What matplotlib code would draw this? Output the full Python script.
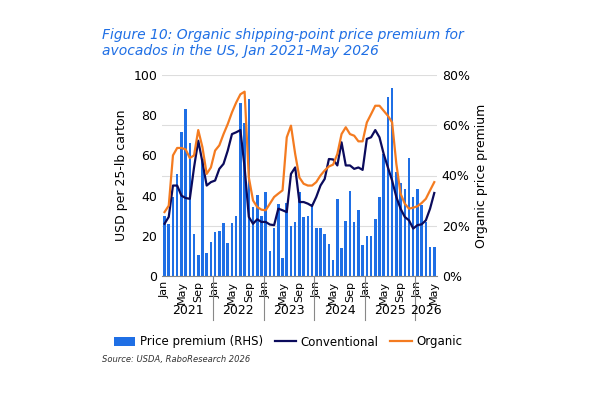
import matplotlib
matplotlib.use("Agg")
import matplotlib.pyplot as plt
import numpy as np

premium = [23.8,20.6,31.4,40.4,57.5,66.3,53,16.9,8.3,46.6,9.1,13.6,
           17.4,17.8,21.1,13.1,20.9,23.8,68.7,60.8,70.3,27.5,32.1,23.8,
           33.4,10,19.3,28.8,7,29,
           20,21.3,33.4,23.5,23.9,28.8,19.3,19.3,16.9,12.9,6.3,30.8,11,21.8,33.7,21.3,26.4,12.5,
           16.1,16.1,22.7,31.4,48.6,71.3,74.8,41.3,37.1,34.5,46.9,31.4,34.7,28.4,21.5,11.4,11.4]
organic = [31.8,35,60,63.7,63.7,63,58.7,60,72.6,64,50.8,54,
           62.4,65,70.6,75.6,81.4,86.3,90.4,91.7,49,37.6,34.3,33,
           32.7,36,39.3,41,42.6,69,74.8,60.7,49,45.9,45,45,
           46.7,50,52.5,54.5,55.4,60.7,70.6,74,70.6,69.8,67,67,
           76.4,80.5,84.7,84.7,82.2,79.7,76.4,55.8,41,36,33.5,34,
           34.7,36.3,38.4,42.6,46.7]
conventional = [26,29.4,45,45,40,38.8,38.4,54,67.3,56.6,45,46.7,
                47.5,53.3,55.8,62.4,70.6,71.5,72.6,54,29.4,26,28.2,26.9,
                26.9,25.6,25.3,33.5,32.7,31.8,50.8,54,36.8,36.8,36,34.8,
                39.3,45,48.3,58.2,58,55,66.5,55,55,53.3,54,52.8,
                68.2,69,72.6,69,60.7,54,47.5,39.3,33.5,29.4,27.7,23.6,
                25.3,25.7,27.7,33.5,41.3]
month_names = ["Jan","Feb","Mar","Apr","May","Jun","Jul","Aug","Sep","Oct","Nov","Dec"]
years = ["2021","2022","2023","2024","2025","2026"]

n = len(organic)
x = np.arange(n)
fig = plt.figure(figsize=(6,4), dpi=100)
ax = fig.add_axes([0.27, 0.31, 0.458, 0.5025])
ax2 = ax.twinx()
ax.set_zorder(ax2.get_zorder()+1); ax.patch.set_visible(False)
ax2.bar(x, premium[:n], width=0.6, color="#1f6fe5", label="Price premium (RHS)")
ax.plot(x, conventional, color="#0b0b5c", lw=1.6, label="Conventional")
ax.plot(x, organic, color="#f47b20", lw=1.6, label="Organic")
ax.set_ylim(0,100); ax2.set_ylim(0,80)
ax.set_xlim(-0.6, n-0.4)
ax.set_yticks(range(0,101,20)); ax2.set_yticks(range(0,81,20))
ax2.set_yticklabels([f"{v}%" for v in range(0,81,20)])
ax2.yaxis.grid(True, color="#dddddd", lw=0.8); ax2.set_axisbelow(True)
for a in (ax, ax2):
    for s in a.spines.values(): s.set_visible(False)
    a.tick_params(length=0, labelsize=9)
ax.spines["bottom"].set_visible(True); ax.spines["bottom"].set_color("#888888")
ticks = [i for i in range(n) if i % 4 == 0]
ax.set_xticks(ticks)
ax.set_xticklabels([month_names[i % 12] for i in ticks], rotation=90, fontsize=8)
ax.set_ylabel("USD per 25-lb carton", fontsize=9)
ax2.set_ylabel("Organic price premium", fontsize=9)
for k, yname in enumerate(years):
    end = min(12*k+11.5, n-0.5)
    ax.text((12*k-0.5+end)/2, -0.17, yname, transform=ax.get_xaxis_transform(), ha="center", va="center", fontsize=9)
    if k > 0:
        ax.plot([12*k-0.5]*2, [0,-0.22], transform=ax.get_xaxis_transform(), color="#888888", lw=0.8, clip_on=False)
h1, l1 = ax2.get_legend_handles_labels(); h2, l2 = ax.get_legend_handles_labels()
fig.legend(h1+h2, l1+l2, loc="center", bbox_to_anchor=(0.48, 0.145), ncol=3, frameon=False, fontsize=8.5, handlelength=1.8, columnspacing=1.0, handletextpad=0.4)
fig.text(0.17, 0.93, "Figure 10: Organic shipping-point price premium for\navocados in the US, Jan 2021-May 2026", color="#1f6fe5", style="italic", fontsize=10, va="top")
fig.text(0.17, 0.095, "Source: USDA, RaboResearch 2026", style="italic", fontsize=6, color="#333333")
fig.savefig("out.png", dpi=100)
